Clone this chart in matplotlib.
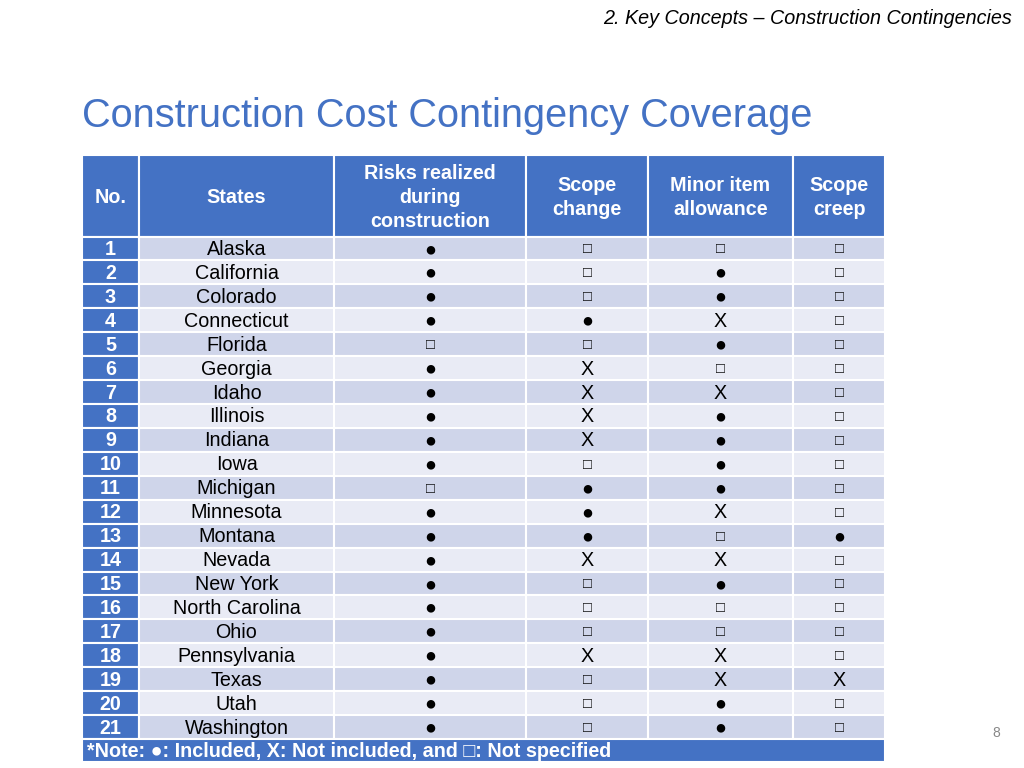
import matplotlib
matplotlib.use('Agg')
import matplotlib.pyplot as plt
from matplotlib.patches import Rectangle

plt.rcParams['font.family'] = ['Liberation Sans', 'DejaVu Sans']

BLUE = '#4472C4'
BAND_DARK = '#CFD5EA'
BAND_LIGHT = '#E9EBF5'

# Datos de la tabla
states = ['Alaska', 'California', 'Colorado', 'Connecticut', 'Florida', 'Georgia',
          'Idaho', 'Illinois', 'Indiana', 'Iowa', 'Michigan', 'Minnesota', 'Montana',
          'Nevada', 'New York', 'North Carolina', 'Ohio', 'Pennsylvania', 'Texas',
          'Utah', 'Washington']
headers = ['No.', 'States', 'Risks realized\nduring\nconstruction', 'Scope\nchange',
           'Minor item\nallowance', 'Scope\ncreep']
risks = ['●', '●', '●', '●', '□', '●', '●', '●', '●', '●', '□', '●', '●', '●', '●',
         '●', '●', '●', '●', '●', '●']
scope_change = ['□', '□', '□', '●', '□', 'X', 'X', 'X', 'X', '□', '●', '●', '●', 'X',
                '□', '□', '□', 'X', '□', '□', '□']
minor_item = ['□', '●', '●', 'X', '●', '□', 'X', '●', '●', '●', '●', 'X', '□', 'X',
              '●', '□', '□', 'X', 'X', '●', '●']
scope_creep = ['□', '□', '□', '□', '□', '□', '□', '□', '□', '□', '□', '□', '●', '□',
               '□', '□', '□', '□', 'X', '□', '□']
note = '*Note: ●: Included, X: Not included, and □: Not specified'

FS = 14.2

fig = plt.figure(figsize=(10.24, 7.68), dpi=100)
ax = fig.add_axes([0, 0, 1, 1])
ax.set_xlim(0, 1024)
ax.set_ylim(768, 0)
ax.axis('off')

col_x = [82, 139, 334, 526, 648, 793, 885]
head_top, head_bot = 155, 236.5
row_h = (739 - head_bot) / len(states)

def cell(x0, x1, y0, y1, color):
    ax.add_patch(Rectangle((x0, y0), x1 - x0, y1 - y0, facecolor=color,
                           edgecolor='white', linewidth=1.5))

# cabecera
for j, h in enumerate(headers):
    cell(col_x[j], col_x[j + 1], head_top, head_bot, BLUE)
    ax.text((col_x[j] + col_x[j + 1]) / 2, (head_top + head_bot) / 2 + 1.5, h,
            color='white', fontsize=FS, fontweight='bold', ha='center',
            va='center', linespacing=1.32)

cols = [risks, scope_change, minor_item, scope_creep]
for i, st in enumerate(states):
    y0 = head_bot + i * row_h
    y1 = y0 + row_h
    yc = (y0 + y1) / 2 + 1
    band = BAND_DARK if i % 2 == 0 else BAND_LIGHT
    cell(col_x[0], col_x[1], y0, y1, BLUE)
    ax.text((col_x[0] + col_x[1]) / 2, yc, str(i + 1), color='white',
            fontsize=FS, fontweight='bold', ha='center', va='center')
    for j in range(1, 6):
        cell(col_x[j], col_x[j + 1], y0, y1, band)
    ax.text((col_x[1] + col_x[2]) / 2, yc, st, fontsize=FS, ha='center', va='center')
    for k, vals in enumerate(cols):
        v = vals[i]
        fs = FS if v != '□' else 10.5
        ax.text((col_x[k + 2] + col_x[k + 3]) / 2, yc, v, fontsize=fs,
                ha='center', va='center')

# nota
ny0 = head_bot + len(states) * row_h
cell(col_x[0], col_x[-1], ny0, 762, BLUE)
ax.text(col_x[0] + 5, (ny0 + 762) / 2 + 1, note, color='white', fontsize=FS,
        fontweight='bold', ha='left', va='center')

# titulos
ax.text(82, 116, 'Construction Cost Contingency Coverage', color=BLUE,
        fontsize=28.6, ha='left', va='center')
ax.text(1012, 18, '2. Key Concepts – Construction Contingencies', fontsize=14.2,
        style='italic', ha='right', va='center')
ax.text(996, 733, '8', fontsize=10, color='#888888', ha='center', va='center')

fig.savefig('out.png', dpi=100)
